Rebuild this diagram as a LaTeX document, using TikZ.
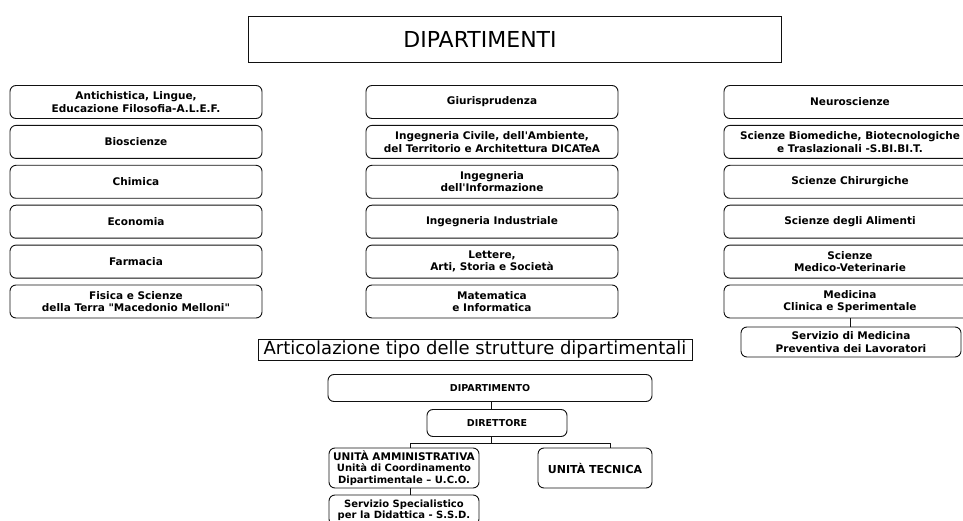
\documentclass[tikz,border=0pt]{standalone}
\usepackage{fontspec}
\setmainfont{DejaVu Sans}[Ligatures=TeXOff]
\usetikzlibrary{positioning}
\definecolor{ink}{HTML}{111111}
\tikzset{
  frame/.style={draw=ink, line width=0.9pt},
  dept/.style={frame, rounded corners=6pt, minimum width=252pt, minimum height=33pt,
    inner sep=0pt, align=center, font=\bfseries\fontsize{10.5}{12.5}\selectfont},
  unit/.style={frame, rounded corners=6pt, inner sep=0pt, align=center,
    font=\bfseries\fontsize{9.5}{11.5}\selectfont},
  link/.style={draw=ink, line width=0.9pt},
}

\begin{document}
\begin{tikzpicture}[x=1pt,y=-1pt]
  \useasboundingbox (0,0) rectangle (963,521);

  % title
  \node[frame, minimum width=533pt, minimum height=46pt] (top) at (514.5,39) {};
  \node[font=\fontsize{22}{26}\selectfont] (toptext) at (480,39) {DIPARTIMENTI};

  % first column
  \node[dept] (a1) at (136,102) {Antichistica, Lingue,\\Educazione Filosofia-A.L.E.F.};
  \node[dept, below=6pt of a1] (a2) {Bioscienze};
  \node[dept, below=6pt of a2] (a3) {Chimica};
  \node[dept, below=6pt of a3] (a4) {Economia};
  \node[dept, below=6pt of a4] (a5) {Farmacia};
  \node[dept, below=6pt of a5] (a6) {Fisica e Scienze\\della Terra "Macedonio Melloni"};

  % second column
  \node[dept] (b1) at (492,102) {Giurisprudenza};
  \node[dept, below=6pt of b1] (b2) {Ingegneria Civile, dell'Ambiente,\\del Territorio e Architettura DICATeA};
  \node[dept, below=6pt of b2] (b3) {Ingegneria\\dell'Informazione};
  \node[dept, below=6pt of b3] (b4) {Ingegneria Industriale};
  \node[dept, below=6pt of b4] (b5) {Lettere,\\Arti, Storia e Società};
  \node[dept, below=6pt of b5] (b6) {Matematica\\e Informatica};

  % third column
  \node[dept] (c1) at (850,102) {Neuroscienze};
  \node[dept, below=6pt of c1] (c2) {Scienze Biomediche, Biotecnologiche\\e Traslazionali -S.BI.BI.T.};
  \node[dept, below=6pt of c2] (c3) {Scienze Chirurgiche};
  \node[dept, below=6pt of c3] (c4) {Scienze degli Alimenti};
  \node[dept, below=6pt of c4] (c5) {Scienze\\Medico-Veterinarie};
  \node[dept, below=6pt of c5] (c6) {Medicina\\Clinica e Sperimentale};
  \node[dept, minimum width=220pt, minimum height=30pt] (smed) at (851,342) {Servizio di Medicina\\Preventiva dei Lavoratori};
  \draw[link] (c6.south) -- (smed.north -| c6.south);

  % typical structure
  \node[frame, minimum width=434pt, minimum height=21pt, inner sep=0pt,
    font=\fontsize{18}{21}\selectfont] (art) at (475,350) {Articolazione tipo delle strutture dipartimentali};
  \node[unit, minimum width=324pt, minimum height=27pt] (dip) at (490,388) {DIPARTIMENTO};
  \node[unit, minimum width=140pt, minimum height=27pt] (dir) at (497,423) {DIRETTORE};
  \node[unit, minimum width=150pt, minimum height=40pt,
    font=\bfseries\fontsize{10}{11.5}\selectfont] (uam) at (404,468)
    {{\fontsize{10.5}{12}\selectfont UNITÀ AMMINISTRATIVA}\\Unità di Coordinamento\\Dipartimentale – U.C.O.};
  \node[unit, minimum width=114pt, minimum height=40pt,
    font=\bfseries\fontsize{11}{13}\selectfont] (ute) at (595,468) {UNITÀ TECNICA};
  \node[unit, minimum width=150pt, minimum height=30pt,
    font=\bfseries\fontsize{10}{11.5}\selectfont] (ssd) at (404,510) {Servizio Specialistico\\per la Didattica - S.S.D.};

  \coordinate (barl) at (410,443);
  \coordinate (barr) at (610,443);
  \draw[link] (dip.south -| 491,0) -- (dir.north -| 491,0);
  \draw[link] (dir.south -| 491,0) -- (barl -| 491,0);
  \draw[link] (uam.north -| barl) -- (barl) -- (barr) -- (ute.north -| barr);
  \draw[link] (uam.south -| barl) -- (ssd.north -| barl);
\end{tikzpicture}
\end{document}
